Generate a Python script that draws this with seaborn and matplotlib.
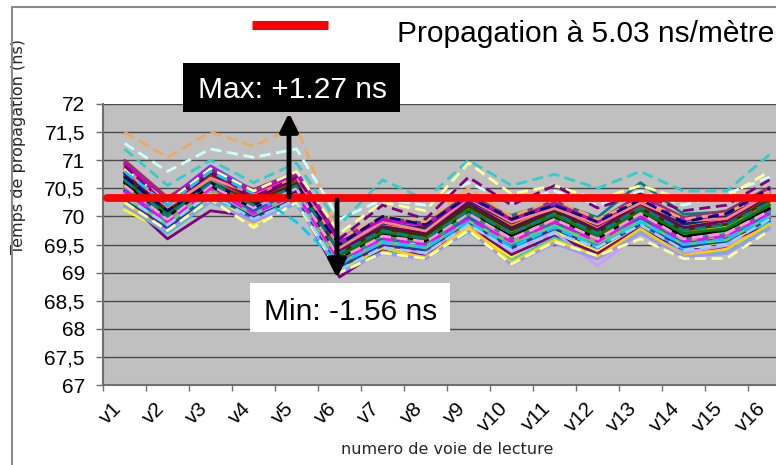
import numpy as np
import pandas as pd
import matplotlib
matplotlib.use("Agg")
import matplotlib.pyplot as plt
import seaborn as sns
from matplotlib.patches import Rectangle
from matplotlib.lines import Line2D

# --- données ---
voies = ['v1', 'v2', 'v3', 'v4', 'v5', 'v6', 'v7', 'v8',
         'v9', 'v10', 'v11', 'v12', 'v13', 'v14', 'v15', 'v16']
niveau_propagation = 70.33
texte_legende = 'Propagation à 5.03 ns/mètre'
texte_max = 'Max: +1.27 ns'
texte_min = 'Min: -1.56 ns'

# traits pleins
serie_01 = [70.62, 69.88, 70.48, 70.22, 70.38, 69.28, 69.58, 69.62, 70.12, 69.58, 70.02, 69.55, 70.12, 69.58, 69.82, 70.08]
serie_02 = [70.92, 70.18, 70.62, 70.34, 70.72, 69.22, 69.86, 69.64, 70.28, 69.74, 70.06, 69.82, 70.14, 69.88, 69.84, 70.36]
serie_03 = [70.12, 69.72, 70.42, 69.86, 70.28, 69.12, 69.38, 69.42, 69.78, 69.28, 69.74, 69.36, 69.92, 69.38, 69.58, 69.84]
serie_04 = [70.48, 69.94, 70.36, 70.12, 70.52, 69.04, 69.62, 69.38, 70.02, 69.46, 69.82, 69.58, 69.88, 69.56, 69.52, 70.06]
serie_05 = [70.30, 69.60, 70.10, 70.00, 70.28, 68.92, 69.42, 69.30, 69.84, 69.32, 69.66, 69.34, 69.80, 69.40, 69.44, 69.92]
serie_06 = [70.78, 70.26, 70.82, 70.28, 70.58, 69.52, 69.78, 69.82, 70.18, 69.92, 70.12, 69.74, 70.32, 69.78, 70.02, 70.34]
serie_07 = [70.58, 70.02, 70.72, 70.32, 70.62, 69.48, 69.98, 69.88, 70.26, 70.02, 70.26, 69.98, 70.60, 70.04, 70.08, 70.42]
serie_08 = [70.44, 69.84, 70.64, 70.06, 70.46, 69.18, 69.68, 69.44, 70.06, 69.52, 69.98, 69.48, 70.04, 69.62, 69.66, 70.12]
serie_09 = [70.28, 69.82, 70.32, 70.02, 70.42, 69.14, 69.46, 69.48, 69.86, 69.42, 69.86, 69.52, 69.84, 69.42, 69.62, 69.88]
serie_10 = [70.66, 69.96, 70.54, 70.24, 70.40, 69.32, 69.74, 69.56, 70.16, 69.68, 69.96, 69.68, 70.06, 69.74, 69.76, 70.24]
serie_11 = [70.40, 69.90, 70.56, 70.04, 70.44, 69.24, 69.56, 69.50, 69.92, 69.64, 69.88, 69.46, 69.98, 69.64, 69.70, 70.14]
serie_12 = [70.74, 70.06, 70.58, 70.28, 70.64, 69.36, 69.80, 69.68, 70.10, 69.78, 70.08, 69.72, 70.22, 69.70, 69.88, 70.28]
serie_13 = [70.36, 69.78, 70.44, 69.96, 70.30, 69.08, 69.52, 69.34, 69.88, 69.38, 69.72, 69.12, 69.70, 69.36, 69.48, 69.82]
serie_14 = [70.52, 70.04, 70.66, 70.16, 70.56, 69.26, 69.72, 69.58, 70.02, 69.72, 69.94, 69.62, 70.16, 69.62, 69.72, 70.18]
serie_15 = [70.98, 70.30, 70.90, 70.46, 70.80, 69.58, 69.92, 69.76, 70.36, 69.86, 70.24, 69.88, 70.26, 69.94, 70.06, 70.48]
serie_16 = [70.20, 69.70, 70.26, 69.92, 70.22, 69.02, 69.36, 69.28, 69.72, 69.22, 69.62, 69.26, 69.76, 69.32, 69.36, 69.80]
serie_17 = [70.56, 70.12, 70.50, 70.18, 70.48, 69.34, 69.76, 69.70, 70.08, 69.80, 70.02, 69.66, 70.02, 69.68, 69.84, 70.22]
serie_18 = [70.24, 69.76, 70.30, 69.88, 70.34, 69.06, 69.44, 69.26, 69.82, 69.18, 69.58, 69.28, 69.78, 69.30, 69.42, 69.86]
serie_19 = [70.82, 70.14, 70.76, 70.36, 70.66, 69.42, 69.84, 69.72, 70.22, 69.84, 70.16, 69.78, 70.18, 69.82, 69.94, 70.32]
serie_20 = [70.68, 70.08, 70.62, 70.18, 70.60, 69.30, 69.66, 69.64, 70.14, 69.66, 70.04, 69.64, 70.12, 69.72, 69.78, 70.20]
serie_21 = [70.50, 69.98, 70.46, 70.14, 70.42, 69.20, 69.64, 69.52, 70.00, 69.62, 69.92, 69.60, 70.00, 69.60, 69.68, 70.10]
serie_22 = [70.42, 69.92, 70.52, 70.08, 70.36, 69.16, 69.54, 69.46, 69.96, 69.56, 69.84, 69.56, 69.94, 69.54, 69.64, 70.02]
serie_23 = [70.86, 70.22, 70.86, 70.38, 70.74, 69.46, 69.88, 69.78, 70.30, 69.88, 70.18, 69.84, 70.28, 69.86, 69.98, 70.38]
serie_24 = [70.54, 70.00, 70.68, 70.16, 70.50, 69.24, 69.66, 69.54, 70.04, 69.64, 69.96, 69.62, 70.06, 69.66, 69.74, 70.16]
serie_25 = [70.72, 70.04, 70.74, 70.26, 70.62, 69.38, 69.76, 69.66, 70.20, 69.76, 70.10, 69.70, 70.16, 69.76, 69.86, 70.26]
serie_26 = [71.00, 70.34, 70.80, 70.48, 70.78, 69.62, 69.96, 69.86, 70.40, 69.98, 70.28, 69.92, 70.38, 69.98, 70.10, 70.52]
serie_27 = [70.32, 69.78, 70.40, 69.98, 70.32, 69.10, 69.48, 69.40, 69.90, 69.44, 69.78, 69.44, 69.86, 69.46, 69.56, 69.96]
serie_28 = [70.60, 70.00, 70.54, 70.14, 70.46, 69.26, 69.70, 69.56, 70.10, 69.66, 70.00, 69.60, 70.08, 69.64, 69.76, 70.14]
serie_29 = [70.64, 70.06, 70.58, 70.22, 70.54, 69.30, 69.72, 69.60, 70.12, 69.70, 70.02, 69.66, 70.10, 69.70, 69.78, 70.20]
serie_30 = [70.76, 70.12, 70.78, 70.30, 70.68, 69.40, 69.82, 69.70, 70.24, 69.80, 70.12, 69.76, 70.22, 69.80, 69.92, 70.36]
serie_31 = [70.88, 70.16, 70.68, 70.40, 70.70, 69.44, 69.90, 69.74, 70.32, 69.90, 70.14, 69.86, 70.24, 69.92, 69.96, 70.40]
serie_32 = [70.46, 69.86, 70.38, 70.10, 70.48, 69.12, 69.60, 69.42, 69.98, 69.50, 69.88, 69.50, 69.96, 69.52, 69.60, 70.04]
serie_33 = [70.18, 69.74, 70.28, 69.90, 70.24, 69.00, 69.34, 69.24, 69.74, 69.14, 69.52, 69.24, 69.70, 69.28, 69.34, 69.78]
serie_34 = [70.70, 70.10, 70.60, 70.26, 70.58, 69.34, 69.78, 69.66, 70.18, 69.76, 70.08, 69.72, 70.14, 69.76, 69.86, 70.30]
serie_35 = [70.34, 69.86, 70.46, 70.04, 70.38, 69.16, 69.56, 69.44, 69.92, 69.52, 69.84, 69.52, 69.92, 69.50, 69.58, 70.00]
serie_36 = [70.94, 70.28, 70.88, 70.42, 70.76, 69.54, 69.94, 69.84, 70.34, 69.94, 70.22, 69.90, 70.34, 69.92, 70.04, 70.46]
# traits pointillés
serie_37 = [71.50, 71.05, 71.50, 71.25, 71.60, 69.60, 70.00, 69.90, 70.50, 70.00, 70.30, 69.95, 70.30, 69.95, 70.05, 70.45]
serie_38 = [71.30, 70.80, 71.20, 71.05, 71.20, 69.95, 70.30, 70.20, 70.60, 70.25, 70.45, 70.20, 70.45, 70.20, 70.40, 70.70]
serie_39 = [71.20, 70.55, 71.00, 70.60, 70.95, 69.85, 70.65, 70.30, 71.00, 70.55, 70.75, 70.50, 70.80, 70.45, 70.45, 71.10]
serie_40 = [70.25, 69.75, 70.30, 69.80, 70.25, 69.00, 69.35, 69.25, 69.75, 69.15, 69.55, 69.30, 69.60, 69.25, 69.25, 69.75]
serie_41 = [70.85, 70.25, 70.85, 70.45, 70.80, 69.70, 70.25, 70.10, 70.95, 70.40, 70.55, 70.30, 70.55, 70.30, 70.35, 70.80]
serie_42 = [70.90, 70.20, 70.80, 70.35, 70.70, 69.60, 70.20, 69.95, 70.70, 70.20, 70.55, 70.15, 70.40, 70.10, 70.20, 70.65]
serie_43 = [70.70, 70.10, 70.60, 70.20, 70.55, 69.50, 70.00, 69.85, 70.35, 69.95, 70.20, 69.90, 70.30, 69.90, 70.05, 70.50]
serie_44 = [70.45, 69.90, 70.50, 70.05, 70.40, 69.20, 69.60, 69.50, 69.95, 69.55, 69.90, 69.55, 70.00, 69.55, 69.65, 70.05]
serie_45 = [70.80, 70.20, 70.80, 70.40, 69.90, 69.15, 69.55, 69.45, 69.90, 69.45, 69.80, 69.45, 69.90, 69.50, 69.60, 70.00]
serie_46 = [70.35, 69.85, 70.40, 69.95, 70.30, 69.05, 69.45, 69.35, 69.85, 69.40, 69.70, 69.45, 69.85, 69.40, 69.50, 69.95]
serie_47 = [70.55, 69.95, 70.55, 70.15, 70.50, 69.25, 69.65, 69.55, 70.05, 69.60, 69.95, 69.60, 70.05, 69.60, 69.70, 70.10]
serie_48 = [70.65, 70.00, 70.60, 70.20, 70.55, 69.35, 69.75, 69.60, 70.10, 69.70, 70.05, 69.70, 70.15, 69.75, 69.85, 70.25]

series_pleines = [serie_01, serie_02, serie_03, serie_04, serie_05, serie_06, serie_07, serie_08,
                  serie_09, serie_10, serie_11, serie_12, serie_13, serie_14, serie_15, serie_16,
                  serie_17, serie_18, serie_19, serie_20, serie_21, serie_22, serie_23, serie_24,
                  serie_25, serie_26, serie_27, serie_28, serie_29, serie_30, serie_31, serie_32,
                  serie_33, serie_34, serie_35, serie_36]
series_pointillees = [serie_37, serie_38, serie_39, serie_40, serie_41, serie_42,
                      serie_43, serie_44, serie_45, serie_46, serie_47, serie_48]

# couleurs à la Excel
couleurs_pleines = ['#000080', '#ff00ff', '#ffff00', '#00ffff', '#800080', '#800000',
                    '#008080', '#0000ff', '#00ccff', '#ccffcc', '#99ccff', '#ff99cc',
                    '#cc99ff', '#ffcc99', '#3366ff', '#33cccc', '#99cc00', '#ffcc00',
                    '#ff9900', '#ff6600', '#666699', '#969696', '#003366', '#339966',
                    '#993300', '#993366', '#333399', '#000000', '#008000', '#660066',
                    '#ff8080', '#0066cc', '#9999ff', '#333300', '#66cc66', '#cc00cc']
couleurs_pointillees = ['#f0a860', '#ccffff', '#33cccc', '#ffff99', '#ffff99', '#800080',
                        '#000080', '#ff00ff', '#00ccff', '#99ccff', '#ff99cc', '#008080']

lignes = []
palette = {}
tirets = {}
for k, vals in enumerate(series_pleines + series_pointillees):
    nom = f's{k + 1:02d}'
    for i, v in enumerate(vals):
        lignes.append({'serie': nom, 'pos': i, 'valeur': v})
    if k < len(series_pleines):
        palette[nom] = couleurs_pleines[k]
        tirets[nom] = ''
    else:
        palette[nom] = couleurs_pointillees[k - len(series_pleines)]
        tirets[nom] = (4, 2)
df = pd.DataFrame(lignes)

sns.set_theme(style="ticks")
plt.rcParams['font.family'] = ['Liberation Sans', 'DejaVu Sans']

W, H = 776, 465
fig = plt.figure(figsize=(W / 100, H / 100), dpi=100)
fig.patch.set_facecolor('white')


def px(x, y):
    return x / W, 1 - y / H


# cadre gris autour du graphique
fig.add_artist(Rectangle(px(12, 475), 800 / W, 468 / H, transform=fig.transFigure,
                         fill=False, edgecolor='#8a8a8a', lw=1.5))

ax = fig.add_axes([103 / W, 80 / H, 688 / W, 281 / H])
ax.set_facecolor('#c0c0c0')

sns.lineplot(data=df, x='pos', y='valeur', hue='serie', style='serie',
             palette=palette, dashes=tirets, legend=False, linewidth=2.0,
             estimator=None, sort=False, ax=ax)

ax.axhline(niveau_propagation, xmin=0.006, color='#ff0000', lw=5.6, zorder=5)

ax.set_xlim(-0.5, len(voies) - 0.5)
ax.set_ylim(67, 72)
yt = np.arange(67, 72.01, 0.5)
ax.set_yticks(yt, [f'{t:g}'.replace('.', ',') for t in yt])
ax.yaxis.grid(True, color='#4a4a4a', lw=1)
ax.set_axisbelow(True)
ax.tick_params(axis='y', length=5, width=1, color='#707070', pad=8, labelsize=15, labelcolor='black')

ax.set_xticks(np.arange(len(voies)) - 0.3, voies)
ax.set_xticks(np.arange(len(voies) + 1) - 0.5, minor=True)
ax.tick_params(axis='x', which='major', length=0, pad=10, labelsize=15, labelcolor='black')
ax.tick_params(axis='x', which='minor', length=4, width=1, color='#707070')
plt.setp(ax.get_xticklabels(), rotation=45, ha='right', va='top', rotation_mode='anchor')

for s in ['top', 'right']:
    ax.spines[s].set_visible(False)
for s in ['left', 'bottom']:
    ax.spines[s].set_color('#707070')
    ax.spines[s].set_linewidth(1.5)

ax.set_xlabel('numero de voie de lecture', family='DejaVu Sans', fontsize=11.5, va='center')
ax.xaxis.set_label_coords(0.5, -0.231)
ax.set_ylabel('Temps de propagation (ns)', family='DejaVu Sans', fontsize=11.5, va='center')
ax.yaxis.set_label_coords(-0.1235, 0.85)

# légende
fig.add_artist(Line2D([252 / W, 328 / W], [1 - 25.5 / H] * 2, transform=fig.transFigure,
                      color='#ff0000', lw=6.5, solid_capstyle='butt'))
fig.text(*px(397, 42), texte_legende, fontsize=21.5, ha='left', va='baseline', color='black')

# encadrés Max / Min
fig.add_artist(Rectangle(px(183, 112), 217 / W, 49 / H, transform=fig.transFigure,
                         facecolor='black', edgecolor='none', zorder=6))
fig.text(*px(292, 98), texte_max, fontsize=21.5, ha='center', va='baseline', color='white', zorder=7)
fig.add_artist(Rectangle(px(250, 332), 200 / W, 49 / H, transform=fig.transFigure,
                         facecolor='white', edgecolor='none', zorder=6))
fig.text(*px(351, 320), texte_min, fontsize=21.5, ha='center', va='baseline', color='black', zorder=7)

# flèches
fleche = dict(arrowstyle='-|>,head_length=0.9,head_width=0.45', lw=3.5, color='black',
              shrinkA=0, shrinkB=0)
ax.annotate('', xy=(289, H - 113), xytext=(289, H - 197), xycoords='figure pixels',
            textcoords='figure pixels', arrowprops=fleche, zorder=8)
ax.annotate('', xy=(337, H - 278), xytext=(337, H - 200), xycoords='figure pixels',
            textcoords='figure pixels', arrowprops=fleche, zorder=8)

fig.savefig('out.png', dpi=100, facecolor='white')
